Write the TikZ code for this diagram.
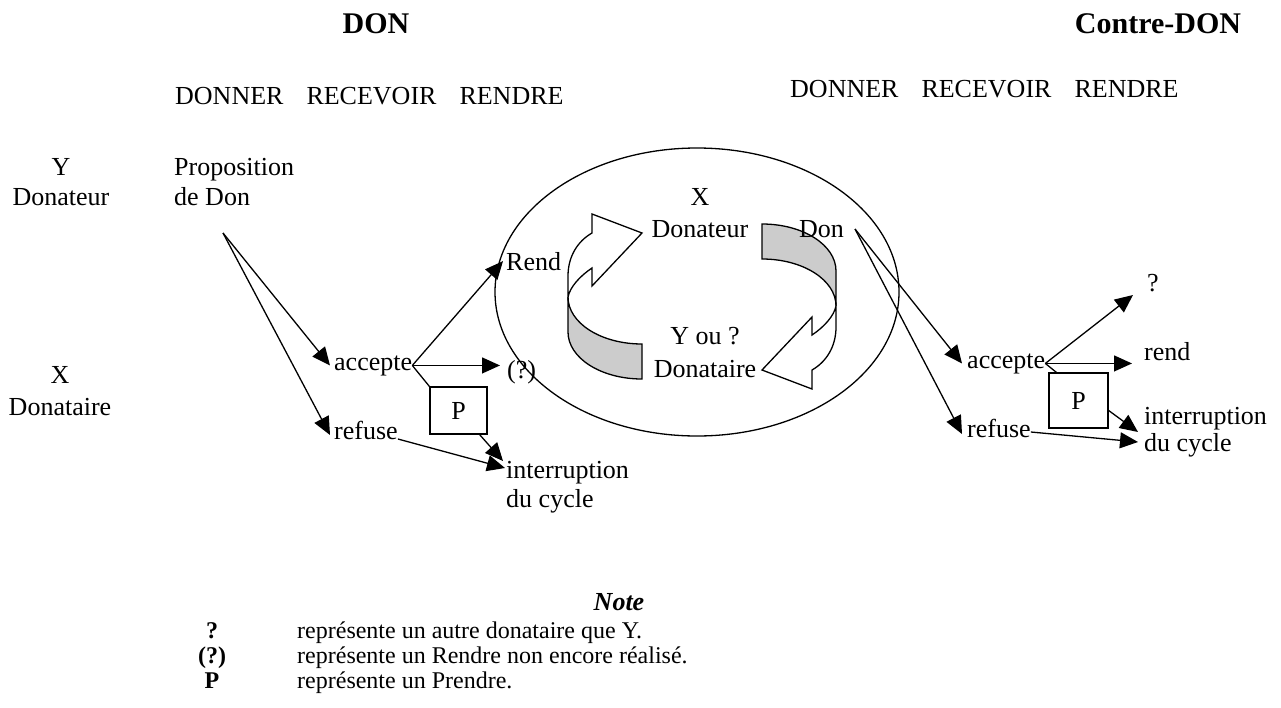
\documentclass[tikz,border=0pt]{standalone}
\usepackage{fontspec}
\setmainfont{Liberation Serif}
\usetikzlibrary{arrows.meta,calc}
\begin{document}
\begin{tikzpicture}[x=1pt,y=-1pt,
  lbl/.style={inner sep=0pt, font=\fontsize{26pt}{30pt}\selectfont},
  hdr/.style={inner sep=0pt, font=\fontsize{30pt}{34pt}\selectfont\bfseries},
  nt/.style={inner sep=0pt, font=\fontsize{24pt}{28pt}\selectfont},
  ntb/.style={inner sep=0pt, font=\fontsize{24pt}{28pt}\selectfont\bfseries},
  arr/.style={line width=1.3pt, -{Triangle[length=18pt,width=16pt]}},
  ln/.style={line width=1.3pt},
  pbox/.style={draw, line width=1.3pt, inner sep=0pt, font=\fontsize{26pt}{30pt}\selectfont},
  cyc/.style={draw, line width=1.3pt, line join=miter}
]
\useasboundingbox (0,0) rectangle (1281,707);

% headers
\node[hdr, anchor=base] (don) at (376,33) {DON};
\node[hdr, anchor=base] (cdon) at (1158,33) {Contre-DON};
\node[lbl, anchor=base west] (verbsL) at (175,104) {DONNER\hspace{23pt}RECEVOIR\hspace{23pt}RENDRE};
\node[lbl, anchor=base west] (verbsR) at (790,97) {DONNER\hspace{23pt}RECEVOIR\hspace{23pt}RENDRE};

% left column
\node[lbl, anchor=base] (yA) at (61,175) {Y};
\node[lbl, anchor=base] (yB) at (61,205) {Donateur};
\node[lbl, anchor=base west] (propA) at (174,175) {Proposition};
\node[lbl, anchor=base west] (propB) at (174,205) {de Don};
\node[lbl, anchor=base] (xA) at (60,383) {X};
\node[lbl, anchor=base] (xB) at (60,415) {Donataire};

% central ellipse and cycle arrows
\draw[line width=1.3pt] (697,292) ellipse [x radius=202, y radius=144];
\foreach \r/\nm in {0/cycL,180/cycR}{
\begin{scope}[rotate around={\r:(702,301.5)}]
  \path[cyc, fill=black!20] (568,297) .. controls (568,323) and (601,344) .. (642,344)
     -- (642,379) .. controls (601,379) and (568,358) .. (568,332) -- cycle;
  \path[cyc, fill=white] (568,297) -- (568,276) .. controls (568,256) and (578,241) .. (592,233)
     -- (592,214) -- (642,233) -- (592,286) -- (592,268)
     .. controls (580,276) and (570,287) .. (568,297) -- cycle;
\end{scope}}

\node[lbl, anchor=base] (xD1) at (700,205) {X};
\node[lbl, anchor=base] (xD2) at (700,237) {Donateur};
\node[lbl, anchor=base west] (donC) at (799,237) {Don};
\node[lbl, anchor=base west] (rendL) at (506,270) {Rend};
\node[lbl, anchor=base west] (qL) at (507,378) {(?)};
\node[lbl, anchor=base] (yD1) at (705,344) {Y ou ?};
\node[lbl, anchor=base] (yD2) at (705,377) {Donataire};

% left flow
\coordinate (pA) at (223,233);
\node[lbl, anchor=base west] (accL) at (334,370) {accepte};
\node[lbl, anchor=base west] (refL) at (334,439) {refuse};
\node[pbox, minimum width=57pt, minimum height=47pt] (pL) at (458.5,410.5) {P};
\node[lbl, anchor=base west] (intL1) at (506,478) {interruption};
\node[lbl, anchor=base west] (intL2) at (506,507) {du cycle};

\draw[arr] (pA) -- ([xshift=-4pt]accL.west);
\draw[arr] (pA) -- ([xshift=-4pt,yshift=4pt]refL.base west);
\draw[arr] (accL.east) -- ([xshift=-3pt]rendL.west);
\draw[arr] (accL.east) -- ($(accL.east -| qL.west)+(-7,0)$);
\draw[ln] (accL.east) -- (pL.north west);
\draw[arr] ([xshift=-8pt]pL.south east) -- ([xshift=-3pt,yshift=17pt]intL1.base west);
\draw[arr] (refL.base east) -- ([xshift=-1pt,yshift=10pt]intL1.base west);

% right flow
\coordinate (pB) at (855,229);
\node[lbl, anchor=base west] (accR) at (967,368) {accepte};
\node[lbl, anchor=base west] (refR) at (967,437) {refuse};
\node[pbox, minimum width=59pt, minimum height=55pt] (pR) at (1078.5,400.5) {P};
\node[lbl, anchor=base west] (qR) at (1147,291) {?};
\node[lbl, anchor=base west] (rendR) at (1144,360) {rend};
\node[lbl, anchor=base west] (intR1) at (1144,424) {interruption};
\node[lbl, anchor=base west] (intR2) at (1144,451) {du cycle};

\draw[arr] (pB) -- ([xshift=-5pt]accR.west);
\draw[arr] (pB) -- ([xshift=-5pt,yshift=3pt]refR.base west);
\draw[arr] (accR.east) -- ([xshift=-14pt,yshift=-4pt]qR.base west);
\draw[arr] (accR.east) -- ($(accR.east -| rendR.west)+(-12,0)$);
\draw[ln] (accR.east) -- ([xshift=8pt]pR.north west);
\draw[arr] ([yshift=-10pt]pR.east) -- ([xshift=-6pt,yshift=-8pt]intR1.base west);
\draw[arr] ([yshift=5pt]refR.base east) -- ([xshift=-6pt,yshift=9pt]intR2.base west);

% note
\node[lbl, font=\fontsize{26pt}{30pt}\selectfont\bfseries\itshape, anchor=base] (note) at (619,610) {Note};
\node[ntb, anchor=base] (s1) at (212,638) {?};
\node[ntb, anchor=base] (s2) at (212,663) {(?)};
\node[ntb, anchor=base] (s3) at (212,688) {P};
\node[nt, anchor=base west] (t1) at (297,638) {représente un autre donataire que Y.};
\node[nt, anchor=base west] (t2) at (297,663) {représente un Rendre non encore réalisé.};
\node[nt, anchor=base west] (t3) at (297,688) {représente un Prendre.};
\end{tikzpicture}
\end{document}
